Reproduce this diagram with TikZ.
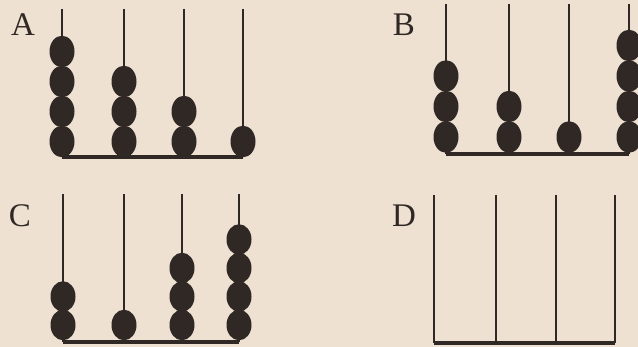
\documentclass[tikz,border=0pt]{standalone}
\usepackage{fontspec}
\setmainfont{Liberation Serif}
\definecolor{paper}{RGB}{238,225,210}
\definecolor{ink}{RGB}{48,40,36}
\begin{document}
\begin{tikzpicture}[x=1pt,y=-1pt,
  rod/.style={draw=ink,line width=2.4pt},
  basebar/.style={draw=ink,line width=3.2pt},
  bead/.style={fill=ink},
  lbl/.style={font=\fontsize{33}{33}\selectfont,text=ink,inner sep=0pt}]
\fill[paper] (0,0) rectangle (638,347);
\useasboundingbox (0,0) rectangle (638,347);
% Panel A
\node[lbl] (labA) at (23,25) {A};
\foreach \x/\n in {62/4,124/3,184/2,243/1}{
  \draw[rod] (\x,9) -- (\x,157);
  \foreach \k in {1,...,\n}{
    \fill[bead] (\x,{141.5-30*(\k-1)}) ellipse [x radius=12.5, y radius=15.8];
  }
}
\draw[basebar] (62,157) -- (243,157);
% Panel B
\node[lbl] (labB) at (404,25) {B};
\foreach \x/\n in {446/3,509/2,569/1,629/4}{
  \draw[rod] (\x,4) -- (\x,154);
  \foreach \k in {1,...,\n}{
    \fill[bead] (\x,{137-30.5*(\k-1)}) ellipse [x radius=12.5, y radius=15.8];
  }
}
\draw[basebar] (446,154) -- (629,154);
% Panel C
\node[lbl] (labC) at (20,216) {C};
\foreach \x/\n in {63/2,124/1,182/3,239/4}{
  \draw[rod] (\x,194) -- (\x,342);
  \foreach \k in {1,...,\n}{
    \fill[bead] (\x,{325-28.5*(\k-1)}) ellipse [x radius=12.5, y radius=15.3];
  }
}
\draw[basebar] (63,342) -- (239,342);
% Panel D
\node[lbl] (labD) at (404,216) {D};
\foreach \x in {434,496,556,615}{
  \draw[rod] (\x,195) -- (\x,343);
}
\draw[basebar] (434,343) -- (615,343);
\end{tikzpicture}
\end{document}
